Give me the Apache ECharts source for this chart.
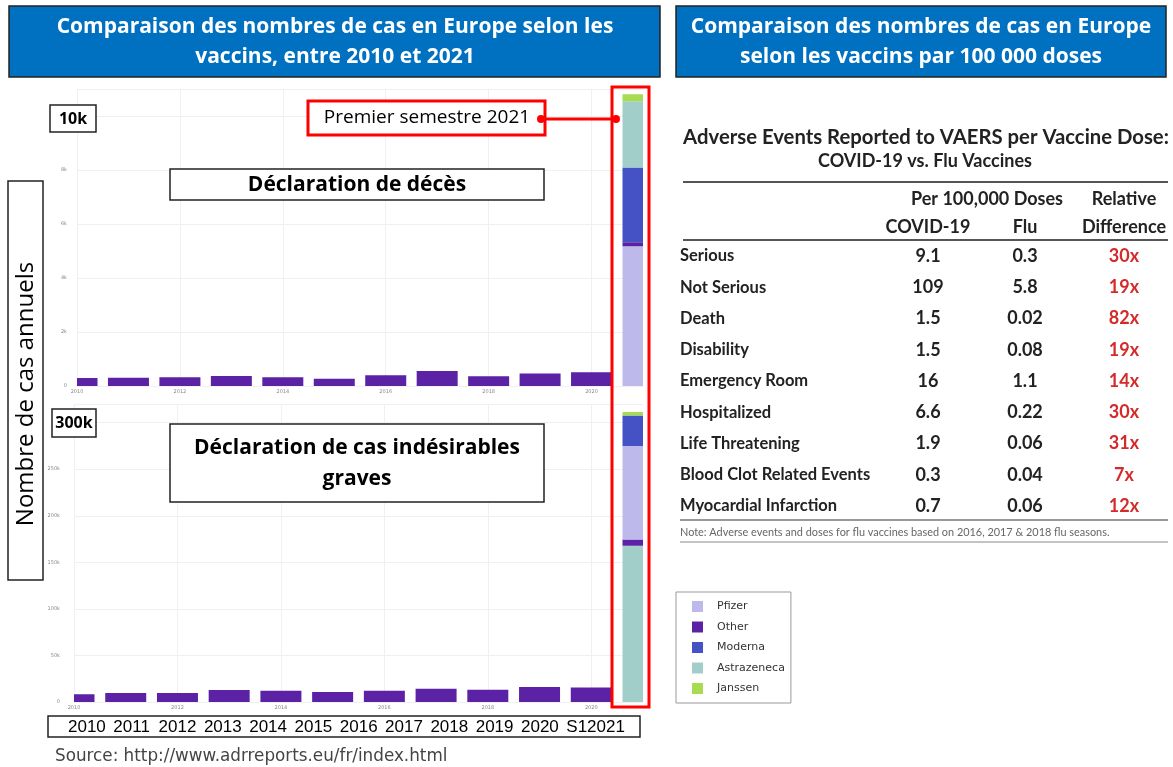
<!DOCTYPE html>
<html>
<head>
<meta charset="utf-8">
<script src="https://cdn.jsdelivr.net/npm/echarts@6/dist/echarts.min.js"></script>
<style>
  html, body { margin: 0; padding: 0; background: #fff; }
  #main { width: 1173px; height: 767px; }
</style>
</head>
<body>
<div id="main"></div>
<script>
// --- données ---
const yearLabels = ['2010', '2011', '2012', '2013', '2014', '2015', '2016', '2017', '2018', '2019', '2020', 'S12021'];
const vaccines = ['Pfizer', 'Other', 'Moderna', 'Astrazeneca', 'Janssen'];
const vaccineColors = ['#bdb9ea', '#5b22a6', '#4552c5', '#a2cec9', '#a8dc50'];

// décès : "Other" par année (2010 -> S1 2021)
const deathsOther = [300, 310, 320, 370, 320, 270, 400, 560, 360, 460, 510, 140];
// décès S1 2021 par vaccin (Pfizer, Moderna, Astrazeneca, Janssen)
const deaths2021 = [5180, 2770, 2460, 260];
// cas graves : "Other" par année
const seriousOther = [8300, 9700, 9700, 12900, 12200, 10700, 12200, 14300, 13200, 16100, 15700, 6800];
const serious2021 = [100500, 32600, 167700, 3900];

// ordre d'empilement dans chaque graphique
const deathsStack = ['Pfizer', 'Other', 'Moderna', 'Astrazeneca', 'Janssen'];
const seriousStack = ['Astrazeneca', 'Other', 'Pfizer', 'Moderna', 'Janssen'];

// tableau VAERS
const tableRows = ['Serious', 'Not Serious', 'Death', 'Disability', 'Emergency Room', 'Hospitalized',
  'Life Threatening', 'Blood Clot Related Events', 'Myocardial Infarction'];
const covidPer100k = ['9.1', '109', '1.5', '1.5', '16', '6.6', '1.9', '0.3', '0.7'];
const fluPer100k = ['0.3', '5.8', '0.02', '0.08', '1.1', '0.22', '0.06', '0.04', '0.06'];
const relativeDiff = ['30x', '19x', '82x', '19x', '14x', '30x', '31x', '7x', '12x'];

const chart = echarts.init(document.getElementById('main'));

function vaccineValue(list, name) {
  // Pfizer, Moderna, Astrazeneca, Janssen
  const idx = ['Pfizer', 'Moderna', 'Astrazeneca', 'Janssen'].indexOf(name);
  return list[idx];
}

function buildSeries(order, other, last, gridIdx) {
  const lastIdx = yearLabels.length - 1;
  return order.map(function (name) {
    const data = yearLabels.map(function (y, i) {
      if (name === 'Other') return other[i];
      return i === lastIdx ? vaccineValue(last, name) : 0;
    });
    return {
      name: name,
      type: 'bar',
      stack: 's' + gridIdx,
      xAxisIndex: gridIdx,
      yAxisIndex: gridIdx,
      barWidth: 41,
      itemStyle: { color: vaccineColors[vaccines.indexOf(name)] },
      data: data
    };
  });
}

const tinyLabel = { fontSize: 5, color: '#888', fontFamily: 'DejaVu Sans' };

function xAxisCfg(idx) {
  return {
    type: 'category', gridIndex: idx, data: yearLabels, boundaryGap: false,
    axisLine: { show: false }, axisTick: { show: false },
    splitLine: { show: true, interval: 1, lineStyle: { color: '#f0f0f0' } },
    axisLabel: Object.assign({ margin: 3, interval: 1 }, tinyLabel)
  };
}

// axe Y : un axe pour la grille, un second (même échelle) pour les libellés au premier plan
function yAxisPair(idx, max, interval, lastLabel, margin) {
  const fmt = function (v) { return v === 0 ? '0' : (v <= lastLabel ? v / 1000 + 'k' : ''); };
  return [
    {
      type: 'value', gridIndex: idx, min: 0, max: max, interval: interval,
      axisLine: { show: false }, axisTick: { show: false }, axisLabel: { show: false },
      splitLine: { lineStyle: { color: '#f0f0f0' } }
    },
    {
      type: 'value', gridIndex: idx, position: 'left', min: 0, max: max, interval: interval, z: 60,
      axisLine: { show: false }, axisTick: { show: false }, splitLine: { show: false },
      axisLabel: Object.assign({ margin: margin, formatter: fmt }, tinyLabel)
    }
  ];
}

const g = [];
function box(x, y, w, h, stroke, lw, fill) {
  g.push({ type: 'rect', z: 100, shape: { x: x, y: y, width: w, height: h },
    style: { fill: fill || '#fff', stroke: stroke, lineWidth: lw } });
}
function mask(x, y, w, h) {
  // cache les demi-barres qui débordent de la zone de tracé (axe temporel coupé)
  g.push({ type: 'rect', z: 50, shape: { x: x, y: y, width: w, height: h }, style: { fill: '#fff' } });
}
function txt(x, y, text, font, opts) {
  g.push({ type: 'text', z: 101, x: x, y: y, rotation: (opts && opts.rot) || 0,
    style: Object.assign({ text: text, font: font, fill: '#000', align: 'center', verticalAlign: 'middle' }, opts && opts.style) });
}
function hline(x1, x2, y, color, lw) {
  g.push({ type: 'line', z: 100, shape: { x1: x1, y1: y, x2: x2, y2: y }, style: { stroke: color, lineWidth: lw } });
}

mask(44, 340, 33, 47);
mask(44, 660, 30, 43);
mask(643, 85, 27, 625);

// en-têtes bleus
box(9, 6, 651, 71, '#222', 1.5, '#0070c0');
txt(335, 42, 'Comparaison des nombres de cas en Europe selon les\nvaccins, entre 2010 et 2021', 'bold 21px "Open Sans"', { style: { fill: '#fff', lineHeight: 30 } });
box(676, 6, 490, 71, '#222', 1.5, '#0070c0');
txt(921, 42, 'Comparaison des nombres de cas en Europe\nselon les vaccins par 100 000 doses', 'bold 21px "Open Sans"', { style: { fill: '#fff', lineHeight: 30 } });

// titre de l'axe
box(8, 181, 35, 399, '#222', 1.5);
txt(26, 394, 'Nombre de cas annuels', '24px "Open Sans"', { rot: Math.PI / 2 });

// étiquettes d'échelle
box(50, 105, 46, 27, '#222', 1.5);
txt(73, 119, '10k', 'bold 16px "Open Sans"');
box(52, 409, 44, 28, '#222', 1.5);
txt(74, 423, '300k', 'bold 16px "Open Sans"');

// titres des panneaux
box(170, 169, 374, 31, '#222', 1.5);
txt(357, 185, 'Déclaration de décès', 'bold 21px "Open Sans"');
box(170, 424, 374, 78, '#222', 1.5);
txt(357, 464, 'Déclaration de cas indésirables\ngraves', 'bold 21px "Open Sans"', { style: { lineHeight: 31 } });

// premier semestre 2021
g.push({ type: 'rect', z: 99, shape: { x: 612, y: 87, width: 37, height: 620 }, style: { fill: 'none', stroke: '#ff0000', lineWidth: 3 } });
box(308, 101, 237, 34, '#ff0000', 3);
txt(427, 118, 'Premier semestre 2021', '19px "Open Sans"');
hline(541, 616, 119, '#ff0000', 3);
g.push({ type: 'circle', z: 102, shape: { cx: 541, cy: 119, r: 4 }, style: { fill: '#ff0000' } });
g.push({ type: 'circle', z: 102, shape: { cx: 616, cy: 119, r: 4 }, style: { fill: '#ff0000' } });

// rangée des années
box(48, 716, 592, 21, '#222', 1.5);
yearLabels.forEach(function (lab, i) {
  txt(68 + i * 45.3, 727, lab, '17px "Liberation Sans"', { style: { align: 'left' } });
});
txt(55, 757, 'Source: http://www.adrreports.eu/fr/index.html', '16.8px "DejaVu Sans"', { style: { align: 'left', fill: '#444' } });

// tableau VAERS
const tf = 'Lato';
txt(926, 137, 'Adverse Events Reported to VAERS per Vaccine Dose:', 'bold 20.3px ' + tf, { style: { fill: '#222' } });
txt(925, 161, 'COVID-19 vs. Flu Vaccines', 'bold 18px ' + tf, { style: { fill: '#222' } });
hline(683, 1168, 182, '#555', 2);
txt(987, 199, 'Per 100,000 Doses', 'bold 18px ' + tf, { style: { fill: '#222' } });
txt(1124, 199, 'Relative', 'bold 18px ' + tf, { style: { fill: '#222' } });
txt(928, 227, 'COVID-19', 'bold 18px ' + tf, { style: { fill: '#222' } });
txt(1025, 227, 'Flu', 'bold 18px ' + tf, { style: { fill: '#222' } });
txt(1124, 227, 'Difference', 'bold 18px ' + tf, { style: { fill: '#222' } });
hline(683, 1168, 240, '#555', 2);
tableRows.forEach(function (r, i) {
  const y = 256 + i * 31.25;
  txt(680, y, r, 'bold 16.5px ' + tf, { style: { align: 'left', fill: '#222' } });
  txt(928, y, covidPer100k[i], 'bold 18px ' + tf, { style: { fill: '#222' } });
  txt(1025, y, fluPer100k[i], 'bold 18px ' + tf, { style: { fill: '#222' } });
  txt(1124, y, relativeDiff[i], 'bold 18px ' + tf, { style: { fill: '#d42a2a' } });
});
hline(680, 1168, 520, '#777', 1.5);
txt(680, 532, 'Note: Adverse events and doses for flu vaccines based on 2016, 2017 & 2018 flu seasons.', '10.9px ' + tf, { style: { align: 'left', fill: '#666' } });
hline(680, 1168, 542, '#888', 1);

const option = {
  animation: false,
  backgroundColor: '#fff',
  grid: [
    { left: 77, top: 89, width: 566, height: 297 },
    { left: 74, top: 404, width: 569, height: 298 }
  ],
  xAxis: [xAxisCfg(0), xAxisCfg(1)],
  yAxis: yAxisPair(0, 11000, 2000, 8000, 10).concat(yAxisPair(1, 320000, 50000, 250000, 14)),
  legend: {
    data: vaccines,
    orient: 'vertical',
    left: 676, top: 592,
    icon: 'rect',
    itemWidth: 11, itemHeight: 11, itemGap: 9.5,
    padding: [9, 6, 9, 16],
    borderColor: '#999', borderWidth: 1,
    selectedMode: false,
    textStyle: { fontSize: 11, fontFamily: 'DejaVu Sans', color: '#333', padding: [0, 0, 0, 9] }
  },
  series: buildSeries(deathsStack, deathsOther, deaths2021, 0)
    .concat(buildSeries(seriousStack, seriousOther, serious2021, 1))
    .map(function (s) { s.yAxisIndex = s.yAxisIndex * 2; return s; }),
  graphic: g
};

chart.setOption(option);
window.onresize = function () { chart.resize(); };
</script>
</body>
</html>
